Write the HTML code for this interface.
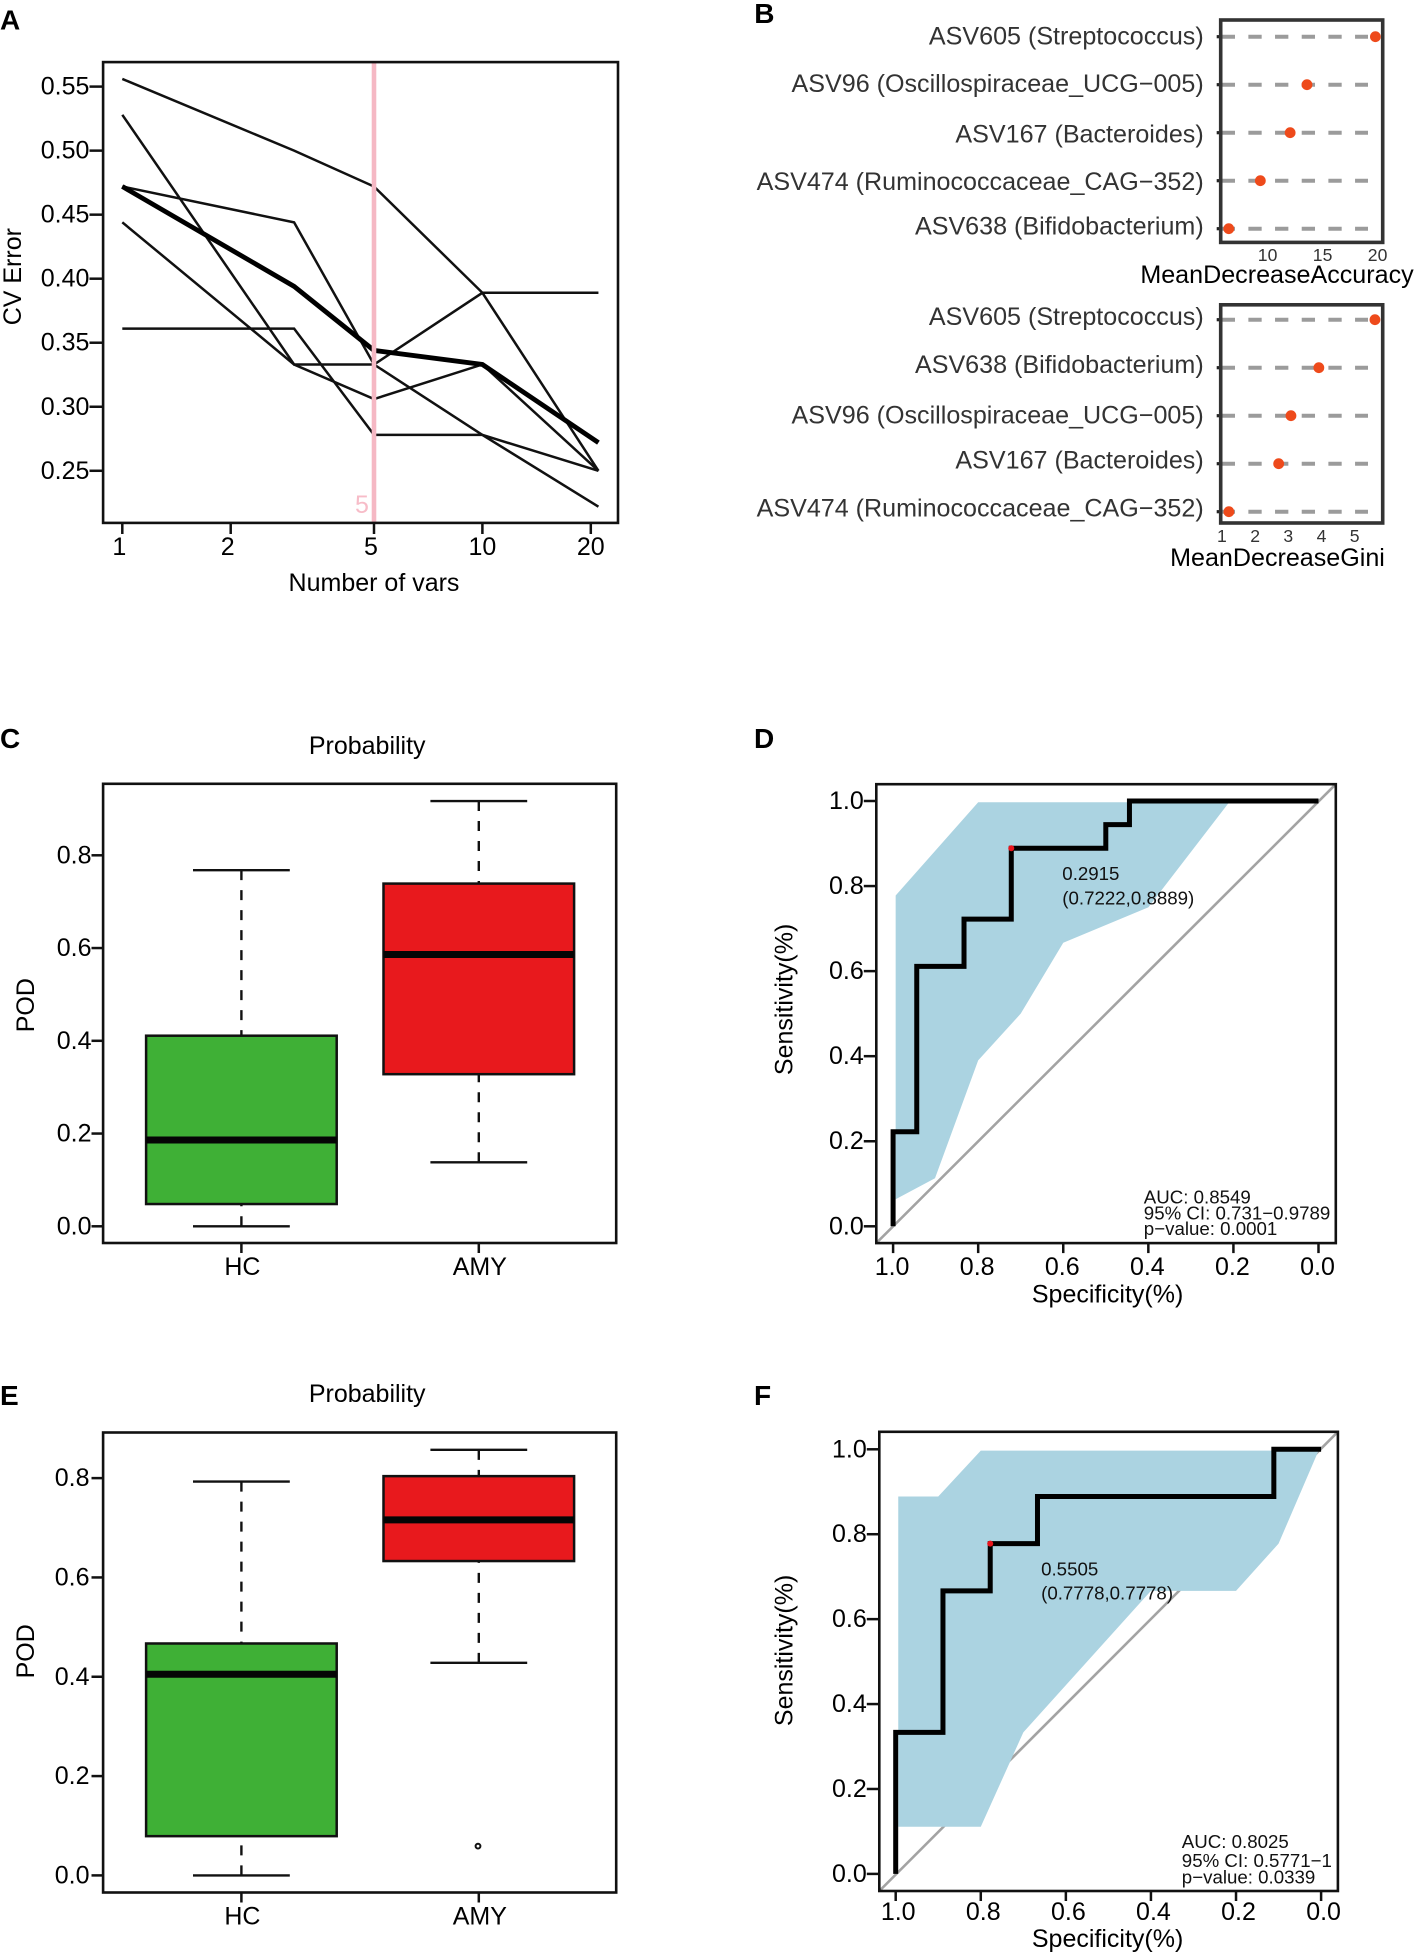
<!DOCTYPE html>
<html>
<head>
<meta charset="utf-8">
<title>Random forest feature selection and ROC panels</title>
<style>
html,body{margin:0;padding:0;background:#fff;}
svg{display:block;}
text{font-family:"Liberation Sans",Arial,sans-serif;fill:#000;}
.letter{font-size:28px;font-weight:bold;}
.lab{font-size:25px;}
.tick{font-size:25px;}
.note{font-size:18.7px;fill:#111;}
.asv{font-size:25.1px;fill:#333;}
.small{font-size:17.6px;fill:#333;}
.frame{fill:none;stroke:#111;stroke-width:2.6;}
.frameb{fill:none;stroke:#333;stroke-width:3.6;}
.diag{stroke:#a3a3a3;stroke-width:2.6;}
</style>
</head>
<body>
<svg id="fig" xmlns="http://www.w3.org/2000/svg" width="1417" height="1956" viewBox="0 0 1417 1956">
<rect width="1417" height="1956" fill="#fff"/>

<g>
  <g id="marks-a"></g>
  <rect class="frame" x="103.1" y="62.1" width="514.9" height="460.8"/>
  <text class="letter" x="0" y="29.6">A</text>
  <text class="lab" text-anchor="middle" x="374" y="591">Number of vars</text>
  <text class="lab" text-anchor="middle" transform="translate(21 276.7) rotate(-90)">CV Error</text>
</g>

<g>
  <g id="marks-b1"></g>
  <rect class="frameb" x="1220.7" y="20" width="162" height="222.4"/>
  <g id="marks-b2"></g>
  <rect class="frameb" x="1220.7" y="304.8" width="162" height="218.2"/>
  <text class="letter" x="754.2" y="23">B</text>
  <text class="asv" style="fill:#000" text-anchor="middle" x="1277" y="283">MeanDecreaseAccuracy</text>
  <text class="asv" style="fill:#000" text-anchor="middle" x="1277.5" y="566">MeanDecreaseGini</text>
</g>

<g>
  <g id="marks-c"></g>
  <rect class="frame" x="103.1" y="783.8" width="513.1" height="459.2"/>
  <text class="letter" x="0" y="748">C</text>
  <text class="lab" text-anchor="middle" x="367.2" y="753.8">Probability</text>
  <text class="lab" text-anchor="middle" transform="translate(33.9 1005.2) rotate(-90)">POD</text>
</g>

<g>
  <line class="diag" x1="876.3" y1="1243.1" x2="1335.8" y2="784.2"/>
  <g id="marks-d"></g>
  <rect class="frame" x="876.3" y="784.2" width="459.5" height="458.9"/>
  <text class="letter" x="754" y="748">D</text>
  <text class="note" x="1062.3" y="880.2">0.2915</text>
  <text class="note" x="1062.3" y="904.3">(0.7222,0.8889)</text>
  <text class="note" x="1143.8" y="1203.3">AUC: 0.8549</text>
  <text class="note" x="1143.8" y="1219.4">95% CI: 0.731−0.9789</text>
  <text class="note" x="1143.8" y="1235">p−value: 0.0001</text>
  <text class="lab" text-anchor="middle" x="1107.6" y="1302.7">Specificity(%)</text>
  <text class="lab" text-anchor="middle" transform="translate(792.5 999.4) rotate(-90)">Sensitivity(%)</text>
</g>

<g>
  <g id="marks-e"></g>
  <rect class="frame" x="103.1" y="1432.5" width="513.1" height="460"/>
  <text class="letter" x="0" y="1404.8">E</text>
  <text class="lab" text-anchor="middle" x="367.2" y="1402.2">Probability</text>
  <text class="lab" text-anchor="middle" transform="translate(33.9 1651.3) rotate(-90)">POD</text>
</g>

<g>
  <line class="diag" x1="879.3" y1="1891" x2="1337.9" y2="1431.8"/>
  <g id="marks-f"></g>
  <rect class="frame" x="879.3" y="1431.8" width="458.6" height="459.2"/>
  <text class="letter" x="754" y="1404.8">F</text>
  <text class="note" x="1041.1" y="1575.3">0.5505</text>
  <text class="note" x="1041.1" y="1599.3">(0.7778,0.7778)</text>
  <text class="note" x="1181.8" y="1848">AUC: 0.8025</text>
  <text class="note" x="1181.8" y="1867">95% CI: 0.5771−1</text>
  <text class="note" x="1181.8" y="1883.3">p−value: 0.0339</text>
  <text class="lab" text-anchor="middle" x="1107.6" y="1946.8">Specificity(%)</text>
  <text class="lab" text-anchor="middle" transform="translate(792.5 1650.4) rotate(-90)">Sensitivity(%)</text>
</g>
</svg>

<script>
/* ---------- Panel A data ---------- */
const cvVarCounts = [1, 3, 5, 10, 21];
const cvFold1 = [0.556, 0.500, 0.472, 0.389, 0.250];
const cvFold2 = [0.528, 0.333, 0.333, 0.389, 0.389];
const cvFold3 = [0.472, 0.444, 0.333, 0.278, 0.222];
const cvFold4 = [0.444, 0.333, 0.306, 0.333, 0.250];
const cvFold5 = [0.361, 0.361, 0.278, 0.278, 0.250];
const cvMean = [0.472, 0.394, 0.344, 0.333, 0.272];
const cvXTicks = [1, 2, 5, 10, 20];
const cvYTicks = ['0.25', '0.30', '0.35', '0.40', '0.45', '0.50', '0.55'];
const cvChosen = [5];

/* ---------- Panel B data ---------- */
const accuracyNames = ['ASV605 (Streptococcus)', 'ASV96 (Oscillospiraceae_UCG−005)', 'ASV167 (Bacteroides)', 'ASV474 (Ruminococcaceae_CAG−352)', 'ASV638 (Bifidobacterium)'];
const accuracyValues = [19.8, 13.58, 12.05, 9.34, 6.47];
const accuracyTicks = [10, 15, 20];
const giniNames = ['ASV605 (Streptococcus)', 'ASV638 (Bifidobacterium)', 'ASV96 (Oscillospiraceae_UCG−005)', 'ASV167 (Bacteroides)', 'ASV474 (Ruminococcaceae_CAG−352)'];
const giniValues = [5.61, 3.92, 3.08, 2.71, 1.21];
const giniTicks = [1, 2, 3, 4, 5];

/* ---------- Panels C / E data: [low whisker, Q1, median, Q3, high whisker] ---------- */
const groupNames = ['HC', 'AMY'];
const podTicks = ['0.0', '0.2', '0.4', '0.6', '0.8'];
const cHcStats = [0.000, 0.048, 0.186, 0.411, 0.768];
const cAmyStats = [0.138, 0.328, 0.586, 0.739, 0.917];
const eHcStats = [0.000, 0.079, 0.405, 0.467, 0.793];
const eAmyStats = [0.428, 0.633, 0.716, 0.804, 0.857];
const eAmyOutliers = [0.059];

/* ---------- Panels D / F data ---------- */
const rocTicks = ['0.0', '0.2', '0.4', '0.6', '0.8', '1.0'];
const dRocSpec = [1, 1, 0.9444, 0.9444, 0.8333, 0.8333, 0.7222, 0.7222, 0.5, 0.5, 0.4444, 0.4444, 0];
const dRocSens = [0, 0.2222, 0.2222, 0.6111, 0.6111, 0.7222, 0.7222, 0.8889, 0.8889, 0.9444, 0.9444, 1, 1];
const dBandSpec = [0.994, 0.8, 0.21, 0.4, 0.6, 0.7, 0.8, 0.9015, 0.994];
const dBandSens = [0.7778, 0.997, 0.997, 0.75, 0.6667, 0.5, 0.39, 0.113, 0.0635];
const dBest = [0.7222, 0.8889];
const fRocSpec = [1, 1, 0.8889, 0.8889, 0.7778, 0.7778, 0.6667, 0.6667, 0.1111, 0.1111, 0];
const fRocSens = [0, 0.3333, 0.3333, 0.6667, 0.6667, 0.7778, 0.7778, 0.8889, 0.8889, 1, 1];
const fBandSpec = [0.994, 0.9, 0.8, 0.006, 0.1, 0.2, 0.4, 0.7, 0.8, 0.994];
const fBandSens = [0.8889, 0.8889, 0.997, 0.997, 0.7778, 0.6667, 0.6667, 0.3333, 0.1111, 0.1111];
const fBest = [0.7778, 0.7778];

const NS = 'http://www.w3.org/2000/svg';
function add(parentId, tag, attrs, name, content) {
  const el = document.createElementNS(NS, tag);
  for (const k in attrs) el.setAttribute(k, attrs[k]);
  
  
  if (content !== undefined) el.textContent = content;
  document.getElementById(parentId).appendChild(el);
  return el;
}
function hTick(g, x1, x2, y, name, w) {
  add(g, 'line', {x1: x1, x2: x2, y1: y, y2: y, stroke: '#111', 'stroke-width': w || 2.5}, name);
}
function vTick(g, x, y1, y2, name, w) {
  add(g, 'line', {x1: x, x2: x, y1: y1, y2: y2, stroke: '#111', 'stroke-width': w || 2.5}, name);
}

/* ---------- Panel A ---------- */
const ax = v => 122.3 + 360.1 * Math.log10(v);
const ay = v => 86.6 + (0.55 - v) * 1280.6;
function drawCv() {
  [cvFold1, cvFold2, cvFold3, cvFold4, cvFold5].forEach(function (s, i) {
    add('marks-a', 'polyline', {
      points: s.map((v, j) => ax(cvVarCounts[j]) + ',' + ay(v)).join(' '),
      fill: 'none', stroke: '#111', 'stroke-width': 2.5
    }, 'cv-fold-line-' + (i + 1));
  });
  add('marks-a', 'polyline', {
    points: cvMean.map((v, j) => ax(cvVarCounts[j]) + ',' + ay(v)).join(' '),
    fill: 'none', stroke: '#000', 'stroke-width': 4.8
  }, 'cv-mean-line');
  cvChosen.forEach(function (v) {
    add('marks-a', 'line', {x1: ax(v), x2: ax(v), y1: 62.1, y2: 522.9, stroke: '#f5b8c4', 'stroke-width': 4.6}, 'selected-vars-line');
    add('marks-a', 'text', {x: ax(v) - 12, y: 513, 'text-anchor': 'middle', style: 'fill:#f7bcc8;font-size:25px'}, 'selected-vars-label', String(v));
  });
  cvXTicks.forEach(function (v) {
    vTick('marks-a', ax(v), 522.9, 534, 'x-tick-a-' + v);
    add('marks-a', 'text', {x: ax(v) - (v < 10 ? 3 : 0), y: 555, 'text-anchor': 'middle', 'class': 'tick'}, 'x-tick-label-a-' + v, String(v));
  });
  cvYTicks.forEach(function (t) {
    const y = ay(parseFloat(t));
    hTick('marks-a', 89.5, 103.1, y, 'y-tick-a-' + t);
    add('marks-a', 'text', {x: 89.4, y: y + 8, 'text-anchor': 'end', 'class': 'tick'}, 'y-tick-label-a-' + t, t);
  });
}

/* ---------- Panel B ---------- */
function drawDots(g, names, values, ticks, xf, rowTop, rowStep, tickBase, prefix) {
  const nudges = g === 'marks-b1' ? [-1.4, -1.9, 0.9, 0.4, -3.3] : [-3.6, -3.6, -1.4, -4.4, -4.4];
  names.forEach(function (nm, i) {
    const y = rowTop + i * rowStep;
    add(g, 'line', {x1: 1216.7, x2: 1221, y1: y, y2: y, stroke: '#222', 'stroke-width': 3.2}, prefix + '-row-tick-' + i);
    add(g, 'line', {x1: 1221.7, x2: 1368, y1: y, y2: y, stroke: '#9b9b9b', 'stroke-width': 4, 'stroke-dasharray': '13.3 13.37'}, prefix + '-guide-' + i);
    add(g, 'circle', {cx: xf(values[i]), cy: y, r: 5.4, fill: '#ee4a1b'}, prefix + '-dot-' + i);
    add(g, 'text', {x: 1203.7, y: y + 9 + nudges[i], 'text-anchor': 'end', 'class': 'asv'}, prefix + '-label-' + i, nm);
  });
  ticks.forEach(function (t) {
    add(g, 'text', {x: xf(t), y: tickBase, 'text-anchor': 'middle', 'class': 'small'}, prefix + '-x-tick-label-' + t, String(t));
  });
}
const bAccX = v => 1267.6 + (v - 10) * 11;
const bGiniX = v => 1221.9 + (v - 1) * 33.2;

/* ---------- Panels C / E ---------- */
function drawBox(g, yf, stats, idx, fill, name) {
  const cx = 241.4 + idx * 237.4;
  const hw = 95.3, cap = 48.4;
  const [lo, q1, med, q3, hi] = stats;
  add(g, 'line', {x1: cx, x2: cx, y1: yf(hi), y2: yf(q3), stroke: '#111', 'stroke-width': 2.4, 'stroke-dasharray': '10 10'}, name + '-upper-whisker');
  add(g, 'line', {x1: cx, x2: cx, y1: yf(lo), y2: yf(q1), stroke: '#111', 'stroke-width': 2.4, 'stroke-dasharray': '10 10'}, name + '-lower-whisker');
  add(g, 'line', {x1: cx - cap, x2: cx + cap, y1: yf(hi), y2: yf(hi), stroke: '#111', 'stroke-width': 2.4}, name + '-upper-cap');
  add(g, 'line', {x1: cx - cap, x2: cx + cap, y1: yf(lo), y2: yf(lo), stroke: '#111', 'stroke-width': 2.4}, name + '-lower-cap');
  add(g, 'rect', {x: cx - hw, y: yf(q3), width: 2 * hw, height: yf(q1) - yf(q3), fill: fill, stroke: '#111', 'stroke-width': 2.5}, name + '-box');
  add(g, 'line', {x1: cx - hw, x2: cx + hw, y1: yf(med), y2: yf(med), stroke: '#050505', 'stroke-width': 7}, name + '-median');
}
function drawBoxAxes(g, yf, labelRight, bottom, labelBase, letter) {
  podTicks.forEach(function (t) {
    const y = yf(parseFloat(t));
    hTick(g, 91.5, 103.1, y, 'y-tick-' + letter + '-' + t);
    add(g, 'text', {x: labelRight, y: y + 8, 'text-anchor': 'end', 'class': 'tick'}, 'y-tick-label-' + letter + '-' + t, t);
  });
  groupNames.forEach(function (nm, i) {
    const cx = 241.4 + i * 237.4;
    vTick(g, cx, bottom, bottom + 10, 'x-tick-' + letter + '-' + nm);
    add(g, 'text', {x: cx + 1, y: labelBase, 'text-anchor': 'middle', 'class': 'tick'}, 'x-tick-label-' + letter + '-' + nm, nm);
  });
}
const cy = v => 1226.3 - v * 463.75;
const ey = v => 1875.4 - v * 496.6;

/* ---------- Panels D / F ---------- */
function drawRoc(g, xf, yf, bandSpec, bandSens, rocSpec, rocSens, best, opts, letter) {
  add(g, 'polygon', {
    points: bandSpec.map((s, i) => xf(s) + ',' + yf(bandSens[i])).join(' '),
    fill: '#abd3e1'
  }, 'confidence-band-' + letter);
  add(g, 'polyline', {
    points: rocSpec.map((s, i) => xf(s) + ',' + yf(rocSens[i])).join(' '),
    fill: 'none', stroke: '#000', 'stroke-width': 5, 'stroke-linejoin': 'miter'
  }, 'roc-curve-' + letter);
  add(g, 'circle', {cx: xf(best[0]), cy: yf(best[1]), r: 3, fill: '#e8141c'}, 'best-threshold-point-' + letter);
  rocTicks.forEach(function (t) {
    const v = parseFloat(t);
    hTick(g, opts.left - 12.5, opts.left, yf(v), 'y-tick-' + letter + '-' + t);
    add(g, 'text', {x: opts.left - 12.5, y: yf(v) + 8, 'text-anchor': 'end', 'class': 'tick'}, 'y-tick-label-' + letter + '-' + t, t);
    vTick(g, xf(v), opts.bottom, opts.bottom + 10, 'x-tick-' + letter + '-' + t);
    add(g, 'text', {x: xf(v) + opts.shift, y: opts.labelBase, 'text-anchor': 'middle', 'class': 'tick'}, 'x-tick-label-' + letter + '-' + t, t);
  });
}
const dx = v => 1318.5 - v * 425.4;
const dy = v => 1226.3 - v * 425.3;
const fx = v => 1321.1 - v * 425.4;
const fy = v => 1873.9 - v * 424.6;

drawCv();
drawDots('marks-b1', accuracyNames, accuracyValues, accuracyTicks, bAccX, 36.7, 48, 261, 'accuracy');
drawDots('marks-b2', giniNames, giniValues, giniTicks, bGiniX, 319.7, 48, 542, 'gini');

drawBox('marks-c', cy, cHcStats, 0, '#3fb036', 'c-hc');
drawBox('marks-c', cy, cAmyStats, 1, '#e8191d', 'c-amy');
drawBoxAxes('marks-c', cy, 91.5, 1243, 1275.2, 'c');

drawBox('marks-e', ey, eHcStats, 0, '#3fb036', 'e-hc');
drawBox('marks-e', ey, eAmyStats, 1, '#e8191d', 'e-amy');
eAmyOutliers.forEach(function (v, i) {
  add('marks-e', 'circle', {cx: 478, cy: ey(v), r: 2.4, fill: '#fff', stroke: '#111', 'stroke-width': 2}, 'e-amy-outlier-' + i);
});
drawBoxAxes('marks-e', ey, 89.5, 1892.5, 1924.4, 'e');

drawRoc('marks-d', dx, dy, dBandSpec, dBandSens, dRocSpec, dRocSens, dBest, {left: 876.3, bottom: 1243.1, labelBase: 1275.2, shift: -1}, 'd');
drawRoc('marks-f', fx, fy, fBandSpec, fBandSens, fRocSpec, fRocSens, fBest, {left: 879.3, bottom: 1891, labelBase: 1920.2, shift: 2.5}, 'f');
</script>
</body>
</html>
